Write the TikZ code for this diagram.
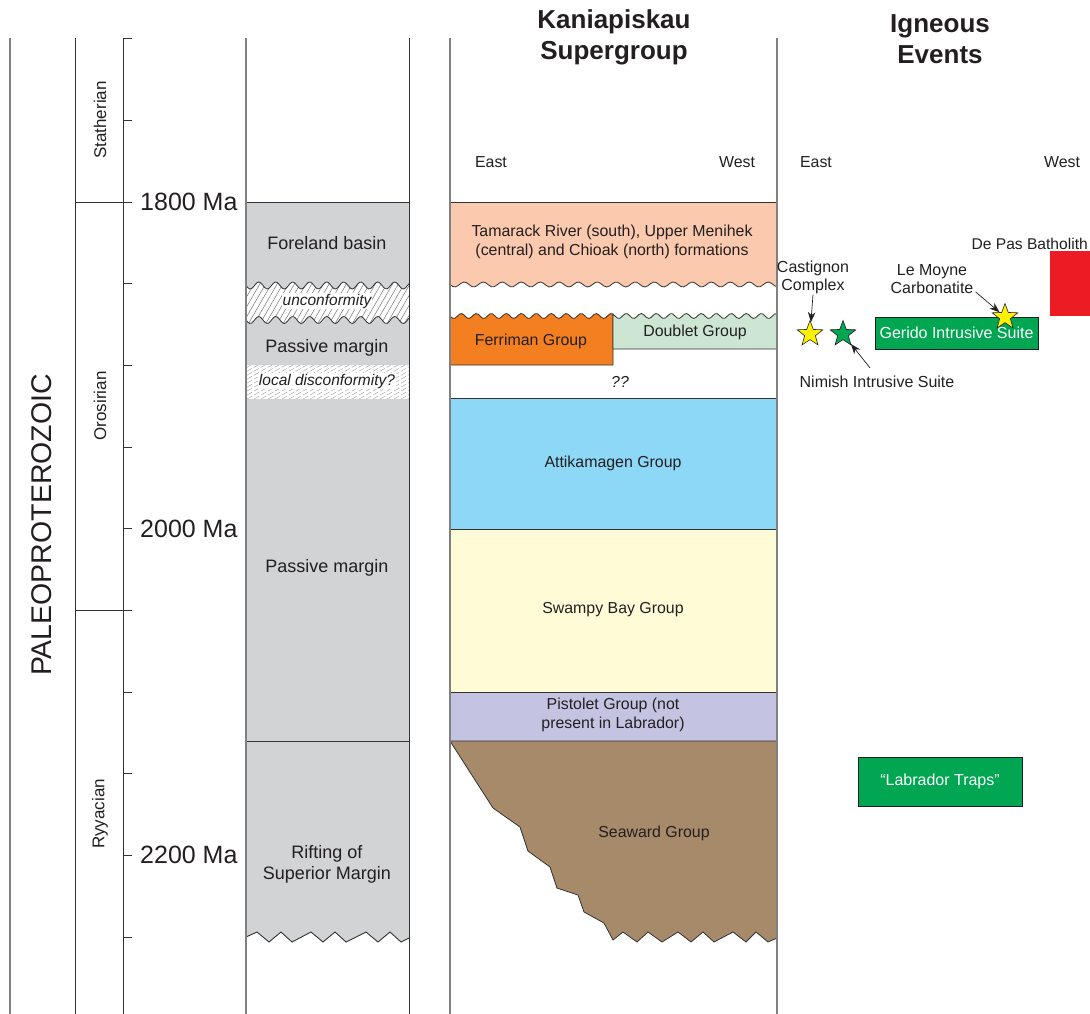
\documentclass[tikz,border=0pt]{standalone}
\usepackage{fontspec}
\setmainfont{Liberation Sans}
\usetikzlibrary{patterns.meta,shapes.geometric,arrows.meta}
\definecolor{txt}{HTML}{231F20}
\definecolor{lline}{HTML}{333333}
\definecolor{gline}{HTML}{808080}
\definecolor{lgray}{HTML}{D1D3D4}
\definecolor{peach}{HTML}{FBC9AE}
\definecolor{ferr}{HTML}{F47F20}
\definecolor{doub}{HTML}{CDE6D3}
\definecolor{atti}{HTML}{8DD8F6}
\definecolor{swam}{HTML}{FFFBD6}
\definecolor{pist}{HTML}{C5C3E2}
\definecolor{seaw}{HTML}{A68A69}
\definecolor{igreen}{HTML}{00A651}
\definecolor{ired}{HTML}{ED1C24}
\definecolor{sy}{HTML}{FFF200}
\begin{document}
\begin{tikzpicture}[x=1pt,y=-1pt,
  every node/.style={text=txt,inner sep=0pt,align=center,font=\fontsize{15.9}{18.5}\selectfont},
  fa/.style={font=\fontsize{16}{18}\selectfont},
  fb/.style={font=\fontsize{18}{21}\selectfont},
  agelab/.style={font=\fontsize{25}{30}\selectfont,anchor=west},
  ttl/.style={font=\bfseries\fontsize{26}{31}\selectfont},
  per/.style={font=\fontsize{17}{20}\selectfont,rotate=90},
  era/.style={font=\fontsize{28.5}{32}\selectfont,rotate=90},
  dk/.style={draw=lline,line width=1pt},
  gr/.style={draw=gline,line width=1.2pt},
  ystar/.style={star,star points=5,star point ratio=2.4,minimum size=27pt,fill=sy,draw=txt,line width=0.6pt},
  gstar/.style={ystar,fill=igreen},
  arr/.style={draw=txt,line width=0.7pt,-{Stealth[length=10pt,width=7.5pt]}},
  gbox/.style={fill=igreen,draw=txt,line width=0.8pt,text=white},
  hatchb/.style={draw=gray!65,line width=0.5pt,dash pattern=on 6pt off 2pt}
]
\useasboundingbox (0,0) rectangle (1090,1014);
\clip (0,0) rectangle (1090,1014);

% ---- column 2 gray fill ----
\fill[lgray] (246,202) -- (409,202) -- (409,938) -- (401,942) -- (390,932) -- (378,942) -- (366,932)
  -- (346,942) -- (335,932) -- (323,942) -- (311,932) -- (292,942) -- (281,932) -- (269,942)
  -- (257,932) -- (246,937) -- cycle;
% unconformity band
\path[fill=white,postaction={pattern={Lines[angle=60,distance=5pt,line width=0.5pt]},pattern color=gray!90!black}]
  plot[domain=246:409,samples=90] (\x,{285.5+3.5*sin(21.176*(\x-246))})
  -- plot[domain=409:246,samples=90] (\x,{320+3.5*sin(21.176*(\x-246))}) -- cycle;
\draw[lline,line width=0.8pt] plot[domain=246:409,samples=90] (\x,{285.5+3.5*sin(21.176*(\x-246))});
\draw[lline,line width=0.8pt] plot[domain=246:409,samples=90] (\x,{320+3.5*sin(21.176*(\x-246))});
% local disconformity band
\fill[white] (246,365) rectangle (409,399);
\begin{scope}
  \clip (246,365) rectangle (409,399);
  \foreach \k in {170,177,...,420} \draw[hatchb] (\k,399) -- (\k+60,365);
\end{scope}
\draw[dk] (246,202) -- (409,202);
\draw[dk] (246,741) -- (409,741);
\draw[lline,line width=0.9pt] (246,937) -- (257,932) -- (269,942) -- (281,932) -- (292,942) -- (311,932)
  -- (323,942) -- (335,932) -- (346,942) -- (366,932) -- (378,942) -- (390,932) -- (401,942) -- (409,938);

% ---- column 3 blocks ----
\path[fill=peach] (450,202) -- (777,202) --
  plot[domain=777:450,samples=120] (\x,{284.5+2.5*sin(18.947*(\x-450))}) -- cycle;
\draw[lline,line width=0.8pt] plot[domain=450:777,samples=120] (\x,{284.5+2.5*sin(18.947*(\x-450))});
\draw[dk] (450,202) -- (777,202);
\path[fill=ferr,draw=lline,line width=0.8pt] plot[domain=450:613,samples=70] (\x,{316+2.5*sin(24*(\x-450))})
  -- (613,365) -- (450,365) -- cycle;
\path[fill=doub,draw=lline,line width=0.8pt] plot[domain=613:777,samples=70] (\x,{316+2.5*sin(24*(\x-450))})
  -- (777,349) -- (613,349) -- cycle;
\path[fill=atti,draw=lline,line width=0.8pt] (450,398) rectangle (777,529);
\path[fill=swam,draw=lline,line width=0.8pt] (450,529) rectangle (777,692);
\path[fill=pist,draw=lline,line width=0.8pt] (450,692) rectangle (777,741);
\path[fill=seaw,draw=lline,line width=0.8pt] (450,741) -- (493,808) -- (520,827) -- (528,851) -- (550,867)
  -- (557,888) -- (578,895) -- (584,912) -- (604,923) -- (613,940) -- (623,932) -- (637,942) -- (648,932)
  -- (662,942) -- (678,932) -- (691,942) -- (703,932) -- (714,942) -- (733,932) -- (746,942) -- (756,932)
  -- (768,942) -- (777,938) -- (777,741) -- cycle;

% ---- vertical lines ----
\draw[gr] (10,38) -- (10,1014);
\draw[dk] (75,38) -- (75,1014);
\draw[dk] (123,38) -- (123,1014);
\draw[gr] (246,38) -- (246,1014);
\draw[dk] (409,38) -- (409,1014);
\draw[gr] (450,38) -- (450,1014);
\draw[gr] (777,38) -- (777,1014);
% ticks
\foreach \t in {38.6,120.3,202,283.7,365.4,447.1,528.8,610.5,692.2,773.9,855.6,937.3}
  \draw[dk] (123,\t) -- (132,\t);
\draw[dk] (75,202) -- (132,202);
\draw[dk] (75,610.5) -- (132,610.5);

% ---- time scale text ----
\node[era] (pal) at (42,525) {PALEOPROTEROZOIC};
\node[per] (sta) at (100,120) {Statherian};
\node[per] (oro) at (100,406) {Orosirian};
\node[per] (ryy) at (100,814) {Ryyacian};
\node[agelab] (a18) at (140,202) {1800 Ma};
\node[agelab] (a20) at (140,529) {2000 Ma};
\node[agelab] (a22) at (140,855) {2200 Ma};

% ---- column 2 text ----
\node[fb] (fore) at (327,243) {Foreland basin};
\node[font=\itshape\fontsize{15.5}{18}\selectfont,fill=white,inner sep=1pt] (unc) at (327,301) {unconformity};
\node[fb] (pm1) at (327,348) {Passive margin};
\node[font=\itshape\fontsize{15.5}{18}\selectfont,fill=white,inner sep=1pt] (ldc) at (327,381) {local disconformity?};
\node[fb] (pm2) at (327,568) {Passive margin};
\node[fb] (rift) at (327,864) {Rifting of\\Superior Margin};

% ---- column 3 text ----
\node[ttl] (kt) at (614,37) {Kaniapiskau\\Supergroup};
\node (e1) at (491,162) {East};
\node (w1) at (737,162) {West};
\node (tam) at (612,242) {Tamarack River (south), Upper Menihek\\(central) and Chioak (north) formations};
\node (fer) at (531,341) {Ferriman Group};
\node (dou) at (695,332) {Doublet Group};
\node[font=\itshape\fontsize{15.9}{18}\selectfont] (qq) at (620,382) {??};
\node (att) at (613,463) {Attikamagen Group};
\node (swa) at (613,610) {Swampy Bay Group};
\node (pis) at (613,715) {Pistolet Group (not\\present in Labrador)};
\node (sea) at (654,833) {Seaward Group};

% ---- column 4 ----
\node[ttl] (it) at (940,39) {Igneous\\Events};
\node (e2) at (816,162) {East};
\node (w2) at (1062,162) {West};
\node[fa] (cas) at (813,277) {Castignon\\Complex};
\node[fa] (lem) at (932,279) {Le Moyne\\Carbonatite};
\node[font=\fontsize{15.6}{18}\selectfont,anchor=east] (dep) at (1088,244) {De Pas Batholith};
\node[fill=ired,minimum width=50pt,minimum height=65pt,anchor=north west] (red) at (1050,251) {};
\node[gbox,fa,minimum width=163pt,minimum height=32pt] (ger) at (956.5,333) {Gerido Intrusive Suite};
\node[ystar] (ys1) at (810,334) {};
\node[gstar] (gs) at (843,334) {};
\node[ystar] (ys2) at (1005,317) {};
\node[fa] (nim) at (877,382) {Nimish Intrusive Suite};
\node[gbox,fa,minimum width=164pt,minimum height=49pt] (lab) at (940,781.5) {``Labrador Traps''};
\draw[arr] ([yshift=-1pt]cas.south) -- (ys1);
\draw[arr] ([xshift=-7pt,yshift=8pt]nim.north) -- (gs);
\draw[arr] ([xshift=2pt,yshift=2pt]lem.south east) -- (ys2);
\end{tikzpicture}
\end{document}
